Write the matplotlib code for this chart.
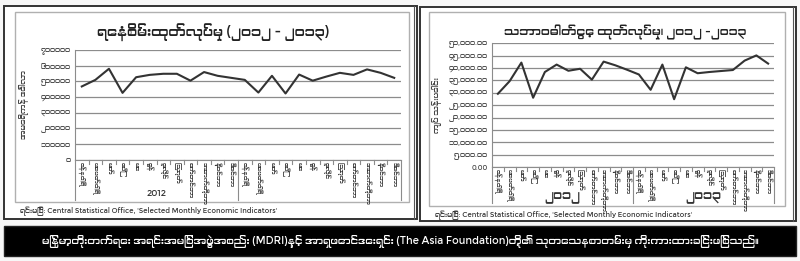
import matplotlib
matplotlib.use("Agg")
import matplotlib.pyplot as plt
from matplotlib import font_manager as fm
from matplotlib.patches import Rectangle

# Myanmar text needs a Myanmar-capable font if one is around
mm_fonts = sorted({f.name for f in fm.fontManager.ttflist
                   if "Myanmar" in f.name or "Padauk" in f.name})
FAMILY = mm_fonts[:1] + ["DejaVu Sans"]
plt.rcParams["font.family"] = FAMILY

months = ["ဇန်နဝါရီ", "ဖေဖော်ဝါရီ", "မတ်", "ဧပြီ", "မေ", "ဇွန်",
          "ဇူလိုင်", "ဩဂုတ်", "စက်တင်ဘာ", "အောက်တိုဘာ", "နိုဝင်ဘာ", "ဒီဇင်ဘာ"]
years_left = ["2012", ""]
years_right = ["၂၀၁၂", "၂၀၁၃"]

# crude oil production (2012-2013), barrels
oil = [467000, 509000, 580000, 426000, 526000, 541000, 548000, 548000,
       504000, 559000, 535000, 522000, 509000, 428000, 535000, 422000,
       543000, 504000, 530000, 554000, 541000, 576000, 554000, 522000]
# natural gas production (2012-2013)
gas = [29600, 34700, 42200, 28000, 38400, 41400, 38900, 39700,
       35300, 42600, 41100, 39300, 37400, 31200, 41400, 27400,
       40300, 37900, 38400, 38800, 39200, 43000, 45100, 41800]

title_left = "ရေနံစိမ်းထုတ်လုပ်မှု (၂၀၁၂ - ၂၀၁၃)"
title_right = "သဘာဝဓါတ်ငွေ့ ထုတ်လုပ်မှု၊ ၂၀၁၂ -၂၀၁၃"
ylab_left = "အမေရိကန် ဒေါ်လာ"
ylab_right = "ကျပ် သန်းပေါင်း"
source = "ရင်းမြစ်: Central Statistical Office, 'Selected Monthly Economic Indicators'"
banner = ("မြန်မာ့တိုးတက်ရေး အရင်းအမြစ်အဖွဲ့အစည်း (MDRI)နှင့် အာရှဖောင်ဒေးရှင်း "
          "(The Asia Foundation)တို့၏ သုတေသနစာတမ်းမှ ကိုးကားထားခြင်းဖြစ်သည်။")

MM = str.maketrans("0123456789", "၀၁၂၃၄၅၆၇၈၉")
W, H = 800, 261


def to_mm(s):
    return s.translate(MM)


fig = plt.figure(figsize=(8, 2.61), dpi=100)
fig.patch.set_facecolor("#f7f7f7")

# overlay in pixel coords for boxes / free text
ov = fig.add_axes([0, 0, 1, 1])
ov.set_xlim(0, W)
ov.set_ylim(H, 0)
ov.axis("off")


def box(x0, y0, x1, y1, ec, lw, fc="none", z=0):
    ov.add_patch(Rectangle((x0, y0), x1 - x0, y1 - y0, fc=fc, ec=ec, lw=lw, zorder=z))


# panels
box(4, 6, 417, 219, "#333333", 1.4, fc="white")
box(15, 12, 409, 202, "#b0b0b0", 1.0)
box(420, 7, 796, 221, "#333333", 1.4, fc="white")
box(429, 12, 785, 206, "#b0b0b0", 1.0)
ov.plot([413.5, 413.5], [6, 219], color="#555555", lw=0.8)
ov.plot([792.5, 792.5], [7, 221], color="#555555", lw=0.8)

# banner
box(4, 226, 796, 256, "#222222", 1.0, fc="black")
ov.text(400, 241, banner, color="white", fontsize=7.4, ha="center", va="center")

ov.text(20, 211, source, fontsize=5, color="#333333", va="center")
ov.text(435, 215, source, fontsize=5, color="#333333", va="center")

ov.text(213, 33, title_left, fontsize=10, ha="center", va="center", color="#222222")
ov.text(625, 32, title_right, fontsize=8.8, ha="center", va="center", color="#222222")


def chart(x0, x1, ytop, ybot, ymax, step, values, fmt, ylab, ylab_x, cat_bot, years, year_y):
    ax = fig.add_axes([x0 / W, 1 - ybot / H, (x1 - x0) / W, (ybot - ytop) / H])
    n = len(values)
    xs = range(n)
    ax.plot(xs, values, color="#333333", lw=1.5, zorder=3)
    ax.set_xlim(-0.5, n - 0.5)
    ax.set_ylim(0, ymax)
    ticks = list(range(0, ymax + 1, step))
    ax.set_yticks(ticks)
    ax.set_yticklabels([fmt(t) for t in ticks], fontsize=5, color="#444444")
    ax.tick_params(axis="y", length=0, pad=3)
    ax.set_xticks([])
    ax.grid(axis="y", color="#8c8c8c", lw=0.9)
    ax.set_axisbelow(True)
    for s in ["top", "right"]:
        ax.spines[s].set_visible(False)
    ax.spines["left"].set_color("#8c8c8c")
    ax.spines["bottom"].set_color("#8c8c8c")
    ax.set_facecolor("none")

    # category axis below the plot
    cw = (x1 - x0) / n
    for i in range(n + 1):
        xx = x0 + i * cw
        full = i % 12 == 0
        ov.plot([xx, xx], [ybot, cat_bot if full else ybot + 4],
                color="#8c8c8c", lw=0.8)
    for i in range(n):
        ov.text(x0 + (i + 0.5) * cw, ybot + 2, months[i % 12], rotation=270,
                fontsize=4.6, ha="center", va="top", color="#333333")
    for g, yr in enumerate(years):
        ov.text(x0 + (g * 12 + 6) * cw, year_y, yr, fontsize=6.5 if yr.isascii() else 9,
                ha="center", va="center", color="#333333")
    ov.text(ylab_x, (ytop + ybot) / 2, ylab, rotation=90, fontsize=5.5,
            ha="center", va="center", color="#444444")
    return ax


chart(75, 401, 50, 159.5, 700000, 100000, oil,
      lambda v: to_mm(str(v)), ylab_left, 24, 200, years_left, 193)
chart(492, 774, 43.3, 167, 50000, 5000, gas,
      lambda v: "0.00" if v == 0 else to_mm(f"{v:,}.00"), ylab_right, 437, 203,
      years_right, 198)

fig.savefig("out.png", dpi=100, facecolor=fig.get_facecolor())
